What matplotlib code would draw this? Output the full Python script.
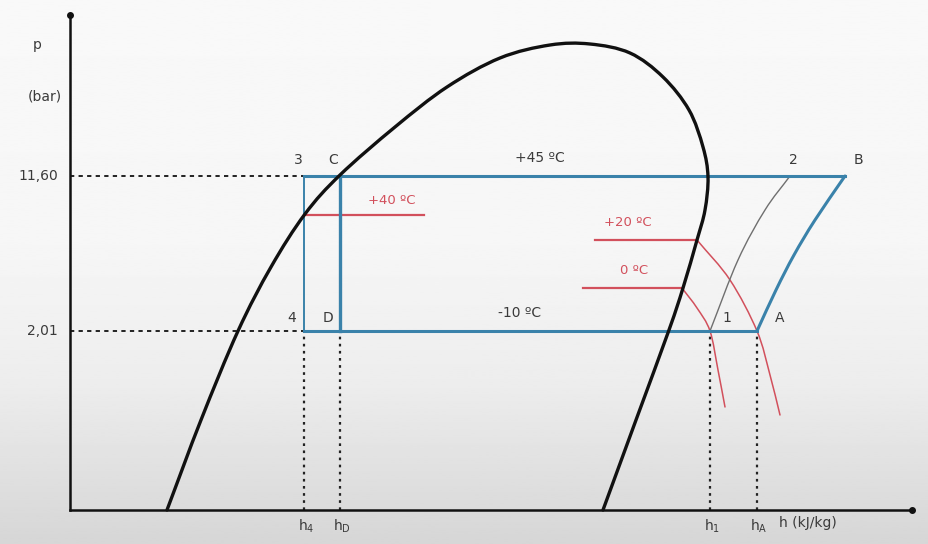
import numpy as np
import matplotlib.pyplot as plt
from matplotlib.path import Path
from matplotlib.patches import PathPatch

plt.rcParams['font.family'] = ['DejaVu Sans']
plt.rcParams['mathtext.default'] = 'regular'

# pressure levels of the cycle (chart units) and their axis labels
p_high, p_low = 334, 179
p_labels = ['11,60', '2,01']

# enthalpy positions of the cycle points (chart units)
h_4, h_D, h_1, h_A, h_2, h_B = 234, 270, 640, 687, 720, 775

# saturation dome, liquid side -> critical point -> vapour side
dome_h = [97, 131, 168, 201, 235, 270, 325, 377, 430, 480, 520, 560, 593,
          619, 633, 638, 635, 627, 613, 599, 566, 533]
dome_p = [0, 90, 179, 243, 296, 335, 383, 423, 452, 465, 466, 457, 433,
          400, 363, 333, 300, 270, 222, 180, 90, 0]

# compression A -> B (blue) and 1 -> 2 (grey)
comp_AB_h = [687, 706, 724, 745, 775]
comp_AB_p = [179, 220, 255, 290, 334]
comp_12_h = [640, 668, 695, 720]
comp_12_p = [179, 250, 300, 334]

# isotherms in the superheated region
iso20_h = [525, 627, 660, 687, 700, 710]
iso20_p = [270, 270, 230, 179, 135, 95]
iso0_h = [513, 612, 627, 640, 648, 655]
iso0_p = [222, 222, 202, 179, 140, 103]
iso40_h = [234, 354]
iso40_p = [295, 295]

blue = '#3a82aa'
red = '#d2505c'
ink = '#3a3a3a'


def smooth_path(hs, ps):
    # Catmull-Rom spline through the points, as cubic Bezier segments
    pts = np.column_stack([hs, ps]).astype(float)
    ext = np.vstack([2 * pts[0] - pts[1], pts, 2 * pts[-1] - pts[-2]])
    verts = [pts[0]]
    codes = [Path.MOVETO]
    for i in range(1, len(ext) - 2):
        c1 = ext[i] + (ext[i + 1] - ext[i - 1]) / 6
        c2 = ext[i + 1] - (ext[i + 2] - ext[i]) / 6
        verts += [c1, c2, ext[i + 1]]
        codes += [Path.CURVE4] * 3
    return Path(verts, codes)


def draw_curve(ax, hs, ps, **kw):
    ax.add_patch(PathPatch(smooth_path(hs, ps), fill=False, capstyle='round', **kw))


fig = plt.figure(figsize=(9.29, 5.44), dpi=100)
ax = fig.add_axes([0, 0, 1, 1])
ax.set_xlim(-70, 859)
ax.set_ylim(-34, 510)
ax.axis('off')

# soft grey backdrop, lighter towards the top
shade = np.interp(np.linspace(0, 1, 256), [0, 0.45, 0.7, 1], [0.975, 0.965, 0.93, 0.84])
ax.imshow(shade[:, None], extent=(-70, 859, -34, 510), cmap='gray', vmin=0, vmax=1,
          aspect='auto', origin='upper', zorder=0)

# axes with dot heads
ax.plot([0, 0], [0, 495], color='#111111', lw=1.8, zorder=5)
ax.plot([0, 842], [0, 0], color='#111111', lw=1.8, zorder=5)
ax.plot([0], [495], 'o', color='#111111', ms=4, zorder=5)
ax.plot([842], [0], 'o', color='#111111', ms=4, zorder=5)

# guide lines to the axes
dash = (0, (2.2, 2.2))
for p in (p_high, p_low):
    ax.plot([0, h_4], [p, p], color='#222222', lw=1.4, linestyle=dash, zorder=2)
for h in (h_4, h_D, h_1, h_A):
    ax.plot([h, h], [0, p_low], color='#222222', lw=1.6, linestyle=(0, (1.2, 2.0)), zorder=2)

# isotherms
ax.plot(iso40_h, iso40_p, color=red, lw=1.6, zorder=3)
draw_curve(ax, iso20_h[1:], iso20_p[1:], edgecolor=red, lw=1.1, zorder=3)
ax.plot(iso20_h[:2], iso20_p[:2], color=red, lw=1.6, zorder=3)
draw_curve(ax, iso0_h[1:], iso0_p[1:], edgecolor=red, lw=1.1, zorder=3)
ax.plot(iso0_h[:2], iso0_p[:2], color=red, lw=1.6, zorder=3)

# compression 1 -> 2
draw_curve(ax, comp_12_h, comp_12_p, edgecolor='#6f6f6f', lw=1.0, zorder=3)

# refrigeration cycle
ax.plot([h_4, h_B], [p_high, p_high], color=blue, lw=2.2, zorder=4)
ax.plot([h_4, h_A], [p_low, p_low], color=blue, lw=2.2, zorder=4)
ax.plot([h_4, h_4], [p_low, p_high], color=blue, lw=1.4, zorder=4)
ax.plot([h_D, h_D], [p_low, p_high], color=blue, lw=2.4, zorder=4)
draw_curve(ax, comp_AB_h, comp_AB_p, edgecolor=blue, lw=2.2, zorder=4)

# saturation dome
draw_curve(ax, dome_h, dome_p, edgecolor='#111111', lw=2.4, zorder=6)

# text
ax.text(-33, 465, 'p', color=ink, fontsize=10, ha='center', va='center')
ax.text(-25, 413, '(bar)', color=ink, fontsize=10, ha='center', va='center')
for p, lab in zip((p_high, p_low), p_labels):
    ax.text(-12, p, lab, color=ink, fontsize=10, ha='right', va='center')

pt_labels = [('3', h_4 - 6, p_high + 16), ('C', h_D - 7, p_high + 16),
             ('4', h_4 - 12, p_low + 13), ('D', h_D - 12, p_low + 13),
             ('2', h_2 + 3, p_high + 16), ('B', h_B + 13, p_high + 16),
             ('1', h_1 + 17, p_low + 13), ('A', h_A + 23, p_low + 13)]
for lab, h, p in pt_labels:
    ax.text(h, p, lab, color=ink, fontsize=10, ha='center', va='center')

ax.text(470, p_high + 18, '+45 ºC', color=ink, fontsize=10, ha='center', va='center')
ax.text(450, p_low + 18, '-10 ºC', color=ink, fontsize=10, ha='center', va='center')
ax.text(322, 310, '+40 ºC', color=red, fontsize=9.5, ha='center', va='center')
ax.text(558, 288, '+20 ºC', color=red, fontsize=9.5, ha='center', va='center')
ax.text(564, 240, '0 ºC', color=red, fontsize=9.5, ha='center', va='center')

for h, lab in zip((h_4, h_D, h_1, h_A), ('h$_4$', 'h$_D$', 'h$_1$', 'h$_A$')):
    ax.text(h + 2, -16, lab, color=ink, fontsize=10, ha='center', va='center')
ax.text(738, -13, 'h (kJ/kg)', color=ink, fontsize=10, ha='center', va='center')

fig.savefig('out.png', dpi=100)
